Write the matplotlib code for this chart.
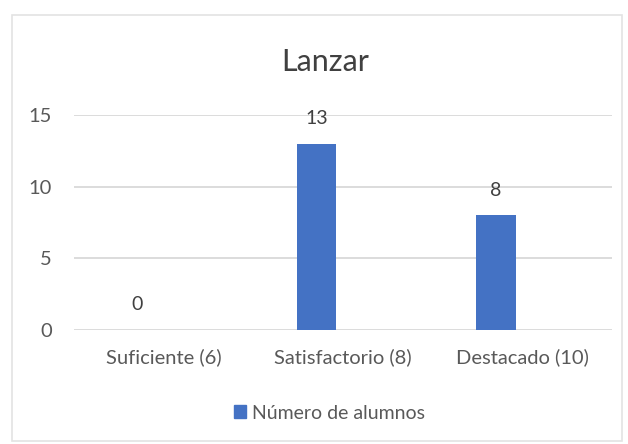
import matplotlib
matplotlib.use('Agg')
import matplotlib.pyplot as plt
from matplotlib.patches import Rectangle, Patch

categories = ['Suficiente (6)', 'Satisfactorio (8)', 'Destacado (10)']
values = [0, 13, 8]
series_name = 'Número de alumnos'
title = 'Lanzar'
yticks = [0, 5, 10, 15]

plt.rcParams['font.family'] = ['Lato', 'DejaVu Sans']

fig = plt.figure(figsize=(6.28, 4.44), dpi=100)
fig.patch.set_facecolor('white')

# chart border like an Excel chart area
fig.patches.append(Rectangle((12 / 628, 3 / 444), 610 / 628, 426 / 444, transform=fig.transFigure,
                             fill=False, edgecolor='#e3e3e3', linewidth=1.2))

ax = fig.add_axes([74 / 628, 1 - 330 / 444, 538 / 628, 215 / 444])
x = list(range(len(categories)))
# bars sit left of the category centre (second, empty series slot in the original)
bx = [xi - 0.148 for xi in x]
ax.bar(bx, values, width=0.22, color='#4472C4', zorder=3)

for xi, v in zip(bx, values):
    ax.annotate(str(v), (xi, v), xytext=(0, 18), textcoords='offset points',
                ha='center', va='center', fontsize=14, color='#404040')

ax.set_xlim(-0.5, 2.5)
ax.set_ylim(0, 15)
ax.set_yticks(yticks)
ax.set_xticks(x)
ax.set_xticklabels(categories)
ax.grid(axis='y', color='#d9d9d9', linewidth=1.3, zorder=0)
for s in ax.spines.values():
    s.set_visible(False)
ax.tick_params(length=0, labelsize=14.5, labelcolor='#595959')
ax.tick_params(axis='x', pad=13)
ax.tick_params(axis='y', pad=16)

fig.text(0.518, 1 - 62 / 444, title, ha='center', va='center', fontsize=22, color='#404040')

fig.legend(handles=[Patch(color='#4472C4', label=series_name)], loc='center',
           bbox_to_anchor=(0.525, 1 - 413 / 444), frameon=False, fontsize=14,
           labelcolor='#595959', handlelength=0.6, handleheight=0.6, handletextpad=0.3)

fig.savefig('out.png', dpi=100)
